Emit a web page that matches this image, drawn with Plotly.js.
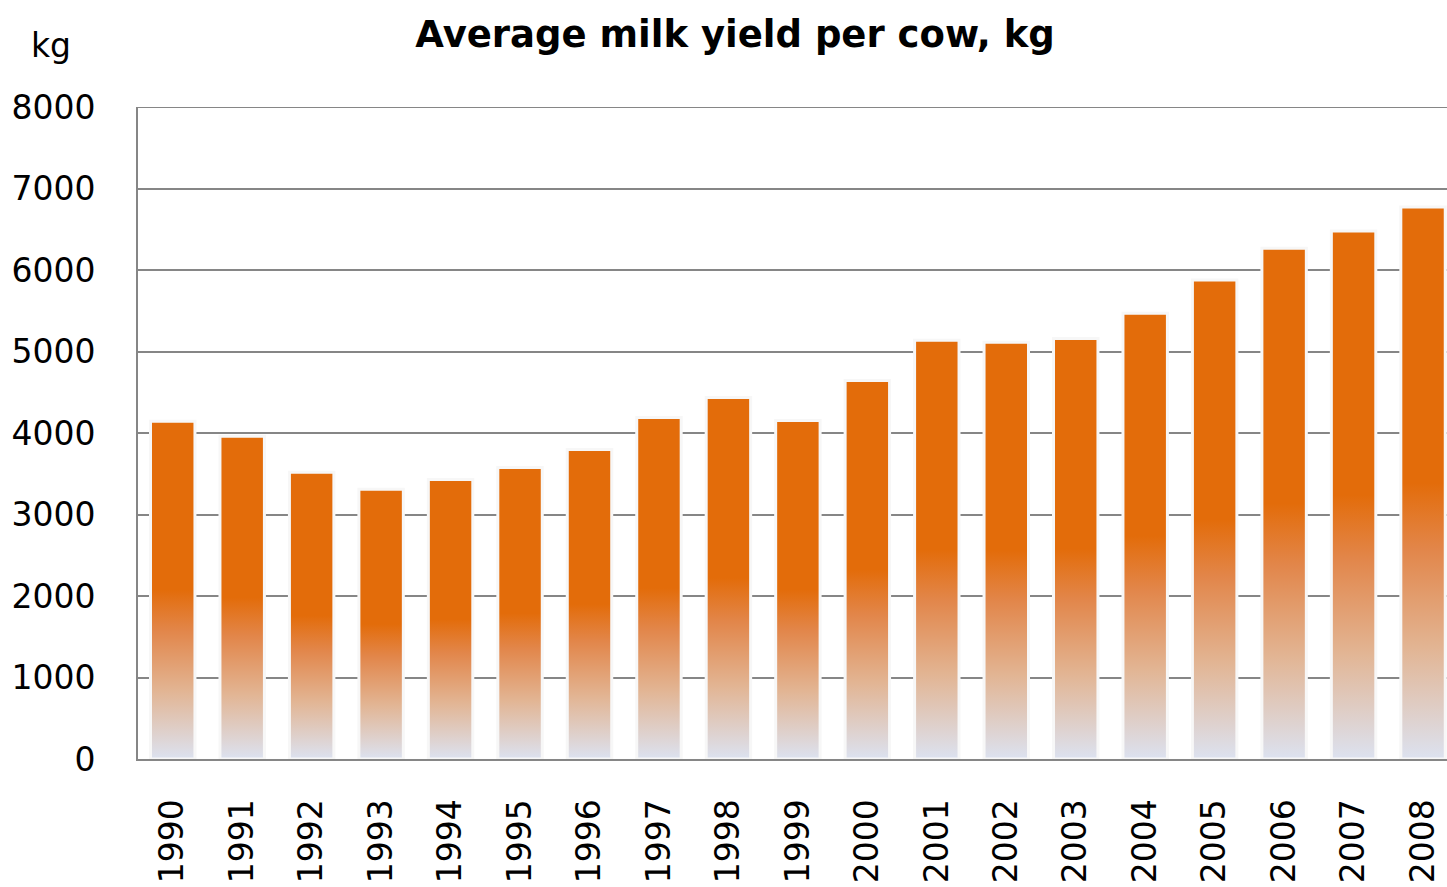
<!DOCTYPE html>
<html>
<head>
<meta charset="utf-8">
<script src="https://cdn.plot.ly/plotly-3.0.1.min.js"></script>
<style>
  html, body { margin: 0; padding: 0; background: #ffffff; }
  #chart { width: 1447px; height: 887px; }
</style>
</head>
<body>
<div id="chart"></div>
<script>
// Data
const years = ["1990","1991","1992","1993","1994","1995","1996","1997","1998","1999",
               "2000","2001","2002","2003","2004","2005","2006","2007","2008"];
const milkYield = [4144, 3960, 3518, 3309, 3430, 3576, 3797, 4190, 4436, 4154,
                   4645, 5137, 5112, 5161, 5470, 5876, 6268, 6477, 6772];
const yTickVals = [0, 1000, 2000, 3000, 4000, 5000, 6000, 7000, 8000];
const titleText = "Average milk yield per cow, kg";
const unitLabel = "kg";

const FONT = "DejaVu Sans, Verdana, sans-serif";
const GRID = "#868686";

const trace = {
  type: "bar",
  x: years,
  y: milkYield,
  marker: { color: "#E36C0A", line: { color: "#f7f7f7", width: 3 } },
  hoverinfo: "x+y"
};

const layout = {
  width: 1447,
  height: 887,
  paper_bgcolor: "#ffffff",
  plot_bgcolor: "#ffffff",
  margin: { l: 138, r: 0, t: 107, b: 128 },
  showlegend: false,
  bargap: 0.36,
  title: {
    text: "<b>" + titleText + "</b>",
    font: { family: FONT, size: 37, color: "#000000" },
    xref: "container", x: 0.508, xanchor: "center",
    yref: "container", y: 0.962, yanchor: "middle"
  },
  xaxis: {
    type: "category",
    range: [-0.5, 18.345],
    tickangle: -90,
    tickfont: { family: FONT, size: 33, color: "#000000" },
    ticks: "",
    ticklabelstandoff: 25,
    showgrid: false,
    showline: true, linecolor: GRID, linewidth: 2,
    zeroline: false,
    fixedrange: true
  },
  yaxis: {
    range: [0, 8000],
    tickvals: yTickVals,
    ticktext: yTickVals.map(String),
    tickfont: { family: FONT, size: 33, color: "#000000" },
    ticks: "",
    ticklabelstandoff: 34,
    showgrid: true, gridcolor: GRID, gridwidth: 2,
    showline: true, linecolor: GRID, linewidth: 2,
    zeroline: false,
    fixedrange: true
  },
  shapes: [{
    type: "line", layer: "below",
    xref: "paper", x0: 0, x1: 1,
    yref: "y", y0: yTickVals[yTickVals.length - 1], y1: yTickVals[yTickVals.length - 1],
    line: { color: GRID, width: 2 }
  }],
  annotations: [{
    text: unitLabel,
    xref: "paper", yref: "paper",
    x: -0.0665, y: 1.0,
    xanchor: "center", yanchor: "bottom",
    yshift: 40,
    showarrow: false,
    font: { family: FONT, size: 33, color: "#000000" }
  }]
};

function applyGradient(gd) {
  const ns = "http://www.w3.org/2000/svg";
  const svg = gd.querySelector(".main-svg");
  if (!svg) return;
  let defs = svg.querySelector("defs");
  if (!defs) { defs = document.createElementNS(ns, "defs"); svg.insertBefore(defs, svg.firstChild); }
  if (!svg.querySelector("#barGrad")) {
    const lg = document.createElementNS(ns, "linearGradient");
    lg.setAttribute("id", "barGrad");
    lg.setAttribute("x1", "0"); lg.setAttribute("y1", "0");
    lg.setAttribute("x2", "0"); lg.setAttribute("y2", "1");
    const stops = [[0, "#E36C0A"], [0.5, "#E36C0A"], [0.62, "#E2864A"], [0.8, "#E2B594"], [1, "#DCE2F0"]];
    stops.forEach(s => {
      const st = document.createElementNS(ns, "stop");
      st.setAttribute("offset", s[0]);
      st.setAttribute("stop-color", s[1]);
      lg.appendChild(st);
    });
    defs.appendChild(lg);
  }
  gd.querySelectorAll(".barlayer .point path").forEach(p => { p.style.fill = "url(#barGrad)"; });
}

const gd = document.getElementById("chart");
Plotly.newPlot(gd, [trace], layout, { displayModeBar: false, staticPlot: true }).then(() => {
  applyGradient(gd);
  gd.on("plotly_afterplot", () => applyGradient(gd));
});
</script>
</body>
</html>
